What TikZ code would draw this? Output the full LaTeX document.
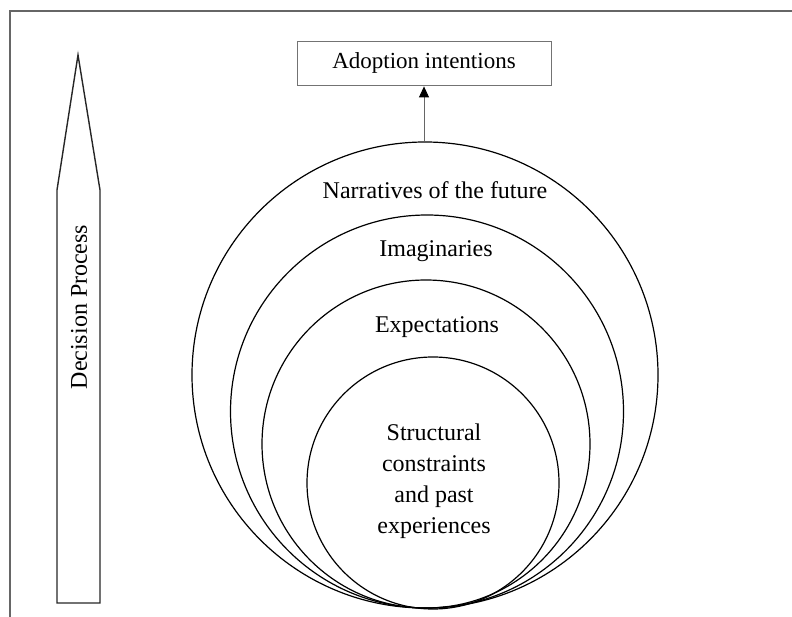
\documentclass[tikz,border=0pt]{standalone}
\usepackage{fontspec}
\setmainfont{Liberation Serif}
\usetikzlibrary{arrows.meta}
\begin{document}
\begin{tikzpicture}[x=1pt,y=-1pt,
  ring/.style={circle, draw=black, line width=1.2pt, inner sep=0pt},
  lbl/.style={font=\fontsize{24}{31}\selectfont, inner sep=0pt, align=center},
  framel/.style={draw=black!60, line width=1.6pt}]
\useasboundingbox (0,0) rectangle (792,617);
% frame
\draw[framel] (10,617) -- (10,11) -- (792,11);
% pencil arrow
\draw[line width=1.4pt, black!85, line join=miter] (57,603) -- (57,190) -- (78,55) -- (100,190) -- (100,603) -- cycle;
\node[lbl, rotate=90] (dp) at (79,307) {Decision Process};
% circles
\node[ring, minimum size=466pt] (c1) at (425,375) {};
\node[ring, minimum size=393pt] (c2) at (427,411.5) {};
\node[ring, minimum size=328pt] (c3) at (426,444) {};
\node[ring, minimum size=252pt] (c4) at (433,483) {};
% labels
\node[lbl] (t1) at (435,190) {Narratives of the future};
\node[lbl] (t2) at (436,251) {Imaginaries};
\node[lbl] (t3) at (437,327) {Expectations};
\node[lbl] (t4) at (434,481) {Structural\\constraints\\and past\\experiences};
% box
\node[draw=black!55, line width=0.8pt, minimum width=254pt, minimum height=44pt, inner sep=0pt,
  font=\fontsize{23}{28}\selectfont] (box) at (424,63) {Adoption intentions};
\draw[draw=black!60, line width=0.8pt, -{Triangle[length=11pt,width=10pt,color=black]}, shorten >=1pt] (c1.north -| box.south) -- (box.south);
\end{tikzpicture}
\end{document}
